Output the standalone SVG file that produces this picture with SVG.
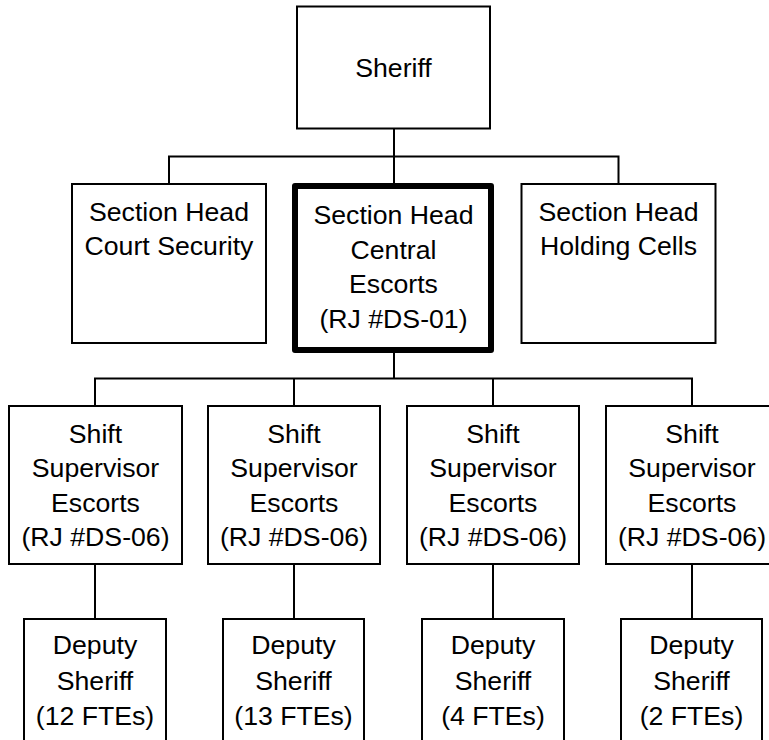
<svg xmlns="http://www.w3.org/2000/svg" width="769" height="740" viewBox="0 0 769 740">
<style>
.box{fill:#fff;stroke:#000;stroke-width:2}
.thick{fill:#fff;stroke:#000;stroke-width:6;stroke-linejoin:round}
.ln{stroke:#000;stroke-width:2;fill:none}
text{font-family:"Liberation Sans",Arial,sans-serif;font-size:26.67px;fill:#000;text-anchor:middle}
</style>
<rect width="769" height="740" fill="#fff"/>
<g id="connectors">
<path class="ln" d="M394,129V183M169,156.5H618.5M169,155.5V184M618.5,155.5V184"/>
<path class="ln" d="M394,353V378.5M95,378.5H692M95,377.5V406M294,377.5V406M493,377.5V406M692,377.5V406"/>
<path class="ln" d="M95,564V619M294,564V619M493,564V619M692,564V619"/>
</g>
<g id="sheriff">
<rect class="box" x="297" y="6.5" width="193" height="122"/>
<text x="393.5" y="77">Sheriff</text>
</g>
<g id="court-security">
<rect class="box" x="72" y="184" width="194" height="159"/>
<text x="169" y="221">Section Head</text>
<text x="169" y="255">Court Security</text>
</g>
<g id="central-escorts">
<rect class="thick" x="295" y="186" width="196" height="164"/>
<text x="393.5" y="224">Section Head</text>
<text x="393.5" y="258.5">Central</text>
<text x="393.5" y="293">Escorts</text>
<text x="393.5" y="327.5">(RJ #DS-01)</text>
</g>
<g id="holding-cells">
<rect class="box" x="521.5" y="184" width="194" height="159"/>
<text x="618.5" y="221">Section Head</text>
<text x="618.5" y="255">Holding Cells</text>
</g>
<g id="shift-1">
<rect class="box" x="9" y="406" width="173" height="158"/>
<text x="95.5" y="442.5">Shift</text>
<text x="95.5" y="477">Supervisor</text>
<text x="95.5" y="511.5">Escorts</text>
<text x="95.5" y="546">(RJ #DS-06)</text>
</g>
<g id="shift-2">
<rect class="box" x="208" y="406" width="172" height="158"/>
<text x="294" y="442.5">Shift</text>
<text x="294" y="477">Supervisor</text>
<text x="294" y="511.5">Escorts</text>
<text x="294" y="546">(RJ #DS-06)</text>
</g>
<g id="shift-3">
<rect class="box" x="407" y="406" width="172" height="158"/>
<text x="493" y="442.5">Shift</text>
<text x="493" y="477">Supervisor</text>
<text x="493" y="511.5">Escorts</text>
<text x="493" y="546">(RJ #DS-06)</text>
</g>
<g id="shift-4">
<rect class="box" x="606" y="406" width="172" height="158"/>
<text x="692" y="442.5">Shift</text>
<text x="692" y="477">Supervisor</text>
<text x="692" y="511.5">Escorts</text>
<text x="692" y="546">(RJ #DS-06)</text>
</g>
<g id="deputy-1">
<rect class="box" x="24" y="619" width="142" height="140"/>
<text x="95" y="654">Deputy</text>
<text x="95" y="689.5">Sheriff</text>
<text x="95" y="725">(12 FTEs)</text>
</g>
<g id="deputy-2">
<rect class="box" x="223" y="619" width="141" height="140"/>
<text x="293.5" y="654">Deputy</text>
<text x="293.5" y="689.5">Sheriff</text>
<text x="293.5" y="725">(13 FTEs)</text>
</g>
<g id="deputy-3">
<rect class="box" x="422" y="619" width="142" height="140"/>
<text x="493" y="654">Deputy</text>
<text x="493" y="689.5">Sheriff</text>
<text x="493" y="725">(4 FTEs)</text>
</g>
<g id="deputy-4">
<rect class="box" x="621" y="619" width="141" height="140"/>
<text x="691.5" y="654">Deputy</text>
<text x="691.5" y="689.5">Sheriff</text>
<text x="691.5" y="725">(2 FTEs)</text>
</g>
</svg>
